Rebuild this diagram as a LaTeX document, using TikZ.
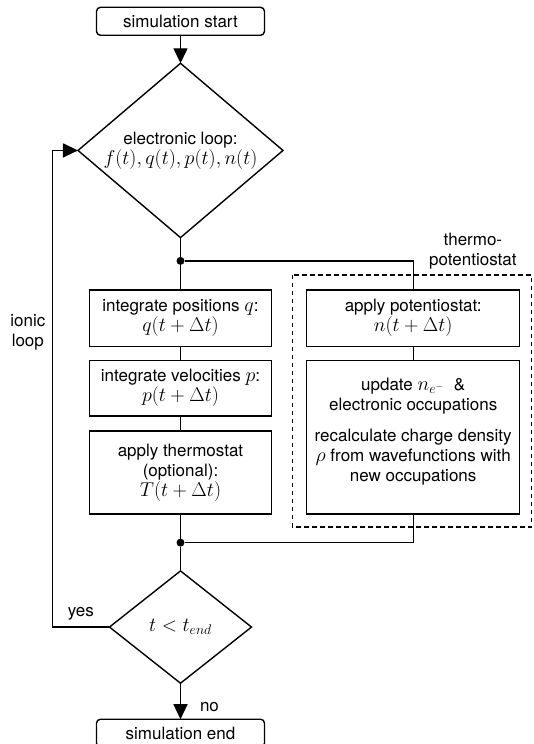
\RequirePackage{fix-cm}
\documentclass[tikz,border=0pt]{standalone}
\usepackage[no-math]{fontspec}
\setmainfont{TeX Gyre Heros}[Scale=0.85]
\usepackage{tikz}
\usetikzlibrary{positioning, shapes.geometric, arrows.meta}
\tikzset{every picture/.style={line width=1.4pt}}

\begin{document}
\begin{tikzpicture}[-, align=center, font=\fontsize{20}{20}\selectfont, outer sep=0pt,
        arr/.style={-{Triangle[length=15pt,width=14pt]}},
        term/.style={draw, rounded corners=4pt, minimum width=168pt, minimum height=28pt, inner sep=2pt},
        box/.style={draw, minimum width=182pt, inner sep=2pt},
        potbox/.style={draw, minimum width=213pt, inner sep=2pt},
        decision/.style={draw, diamond, inner sep=0pt},
        dot/.style={circle, fill, inner sep=0pt, minimum size=8pt},
        lbl/.style={inner sep=0pt},
        tpline/.style={dash pattern=on 4.5pt off 3.5pt}]
        \useasboundingbox (-180.5pt,21.3pt) rectangle (353.5pt,-722.7pt);

        \node[term] (start) {simulation start};
        \node[decision, minimum width=205pt, minimum height=174.3pt, aspect=1.15, below=28pt of start] (elec) {electronic loop:\\$f(t), q(t), p(t), n(t)$};
        \node[box, minimum height=56.3pt, below=52.3pt of elec] (posq) {integrate positions $q$:\\$q(t+\Delta t)$};
        \node[box, minimum height=55.7pt, below=14pt of posq] (velp) {integrate velocities $p$:\\$p(t+\Delta t)$};
        \node[box, minimum height=83pt, below=15pt of velp] (thst) {apply thermostat\\(optional):\\$T(t+\Delta t)$};
        \node[decision, minimum width=142pt, minimum height=112.3pt, aspect=1.26, below=57pt of thst] (check) {$t < t_{end}$};
        \node[term, below=36pt of check] (stop) {simulation end};
        \node[potbox, minimum height=56.3pt, right=35.2pt of posq] (pot) {apply potentiostat:\\$n(t+\Delta t)$};
        \node[potbox, minimum height=153.7pt, below=14pt of pot] (occ) {update $n_{e^-}$\ \ \&\\electronic occupations\\[11pt]recalculate charge density\\$\rho$ from wavefunctions with\\new occupations\\[-6pt]\mbox{}};
        \coordinate[above left=15pt and 14.4pt of pot.north west] (tpnw);
        \coordinate[below right=13pt and 11.9pt of occ.south east] (tpse);
        \coordinate (tpne) at (tpse |- tpnw);
        \draw[tpline] (tpnw) rectangle (tpse);
        \node[lbl, above left=6pt and 15pt of tpne] (tplbl) {thermo-\\potentiostat};
        \node[dot, below=19.3pt of elec.south] (split) {};
        \node[dot, below=24.7pt of thst.south] (merge) {};
        \coordinate[left=57.2pt of check.west] (back);

        \draw[arr] (start) -- (elec);
        \draw (elec) -- (split) -- (posq);
        \draw (split) -| (pot);
        \draw
            (posq) -- (velp)
            (velp) -- (thst)
            (thst) -- (merge)
            (merge) -- (check)
            (pot) -- (occ)
            ;
        \draw (occ) |- (merge);
        \draw[arr] (check) -- node[lbl, pos=0.65, right=19.5pt] {no} (stop);
        \draw[arr] (check.west) -- node[lbl, above=7pt] {yes} (back) |- node[lbl, pos=0.309, left=7pt] {ionic\\loop} (elec.west);
    \end{tikzpicture}
\end{document}
